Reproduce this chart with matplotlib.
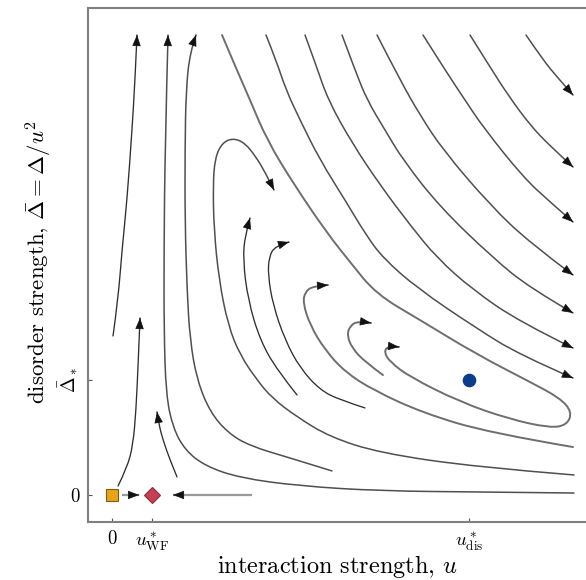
import numpy as np
from matplotlib import pyplot as plt
from matplotlib.path import Path
from matplotlib.patches import PathPatch, FancyArrowPatch

plt.rcParams['font.family'] = 'serif'
plt.rcParams['font.serif'] = ['cmr10', 'DejaVu Serif']
plt.rcParams['mathtext.fontset'] = 'cm'
plt.rcParams['axes.formatter.use_mathtext'] = True

# =============================================================================
# fixed points (u, Delta_bar)
# =============================================================================
u_wf = 1.0
u_dis = 8.93
delta_star = 1.0

# =============================================================================
# flow lines, ordered along the flow (arrow at the end)
# =============================================================================
flow_lines = {
    'left_up':  ([0.025, 0.15, 0.25, 0.375, 0.5, 0.575, 0.625],
                 [1.383, 1.696, 2.130, 2.565, 3.174, 3.609, 4.0]),
    'gauss_up': ([0.15, 0.375, 0.525, 0.6, 0.65, 0.7],
                 [0.078, 0.235, 0.435, 0.739, 1.113, 1.539]),
    'wf_up':    ([1.625, 1.45, 1.275, 1.175, 1.125],
                 [0.157, 0.304, 0.478, 0.609, 0.722]),
    'sep_low':  ([11.55, 9.2, 6.7, 4.7, 3.2, 2.325, 1.825, 1.525, 1.35, 1.3, 1.3, 1.325, 1.4],
                 [0.017, 0.026, 0.035, 0.078, 0.148, 0.252, 0.391, 0.583, 0.870, 1.435, 2.130, 3.0, 4.0]),
    'mid_up':   ([5.5, 4.45, 3.45, 2.9, 2.45, 2.125, 1.95, 1.875, 1.825, 1.825, 1.85, 1.95, 2.1],
                 [0.209, 0.322, 0.426, 0.539, 0.722, 1.0, 1.348, 1.783, 2.391, 3.0, 3.522, 3.852, 4.0]),
    'big_hook': ([11.55, 9.1, 6.7, 5.45, 4.625, 4.0, 3.625, 3.2, 2.9, 2.675, 2.55, 2.525, 2.575,
                  2.75, 3.025, 3.325, 3.6, 3.825, 4.05],
                 [0.174, 0.243, 0.365, 0.504, 0.678, 0.843, 1.0, 1.217, 1.478, 1.870, 2.304, 2.696,
                  2.930, 3.061, 3.104, 3.061, 2.939, 2.809, 2.652]),
    'hook_1':   ([11.525, 9.45, 7.775, 6.525, 5.825, 5.325, 4.95, 4.775, 4.825, 5.025, 5.4],
                 [0.417, 0.539, 0.713, 0.913, 1.070, 1.261, 1.478, 1.670, 1.765, 1.817, 1.826]),
    'hook_2':   ([6.775, 6.325, 6.0, 5.875, 5.95, 6.15, 6.475],
                 [1.043, 1.157, 1.278, 1.391, 1.470, 1.513, 1.496]),
    'hook_3':   ([6.325, 5.7, 5.2, 4.7, 4.325, 4.025, 3.9, 3.925, 4.075, 4.425],
                 [0.757, 0.826, 0.913, 1.104, 1.348, 1.652, 1.913, 2.070, 2.165, 2.2]),
    'hook_4':   ([4.625, 4.125, 3.7, 3.4, 3.275, 3.325, 3.45],
                 [0.870, 1.087, 1.348, 1.696, 2.043, 2.261, 2.409]),
    'u_turn':   ([2.75, 3.1, 3.45, 3.875, 4.525, 5.375, 5.95, 6.6, 7.7, 9.1, 10.45, 11.2, 11.5,
                  11.375, 10.95, 9.925, 8.7, 7.45, 6.95, 6.8, 6.9, 7.175],
                 [4.0, 3.713, 3.435, 3.087, 2.713, 2.278, 2.026, 1.748, 1.522, 1.226, 0.983, 0.843,
                  0.722, 0.609, 0.583, 0.661, 0.809, 1.026, 1.157, 1.243, 1.296, 1.287]),
    'down_1':   ([3.85, 4.1, 4.35, 4.7, 5.2, 5.825, 6.35, 6.775, 7.625, 9.1, 10.2, 11.525],
                 [4.0, 3.783, 3.522, 3.261, 2.913, 2.565, 2.261, 2.061, 1.8, 1.452, 1.217, 1.017]),
    'down_2':   ([4.825, 5.1, 5.4, 6.0, 6.7, 7.45, 8.125, 9.025, 10.2, 11.525],
                 [4.0, 3.739, 3.435, 3.061, 2.696, 2.348, 2.061, 1.783, 1.504, 1.278]),
    'down_3':   ([5.75, 6.075, 6.375, 6.825, 7.275, 8.2, 9.525, 10.45, 11.525],
                 [4.0, 3.696, 3.435, 3.174, 2.913, 2.504, 2.061, 1.8, 1.583]),
    'down_4':   ([6.625, 7.2, 7.7, 8.275, 9.45, 10.45, 11.525],
                 [4.0, 3.609, 3.304, 3.0, 2.522, 2.191, 1.913]),
    'down_5':   ([7.775, 8.375, 8.825, 9.275, 10.275, 10.95, 11.525],
                 [4.0, 3.670, 3.435, 3.2, 2.765, 2.548, 2.374]),
    'down_6':   ([8.95, 9.45, 9.9, 10.45, 10.95, 11.525],
                 [4.0, 3.722, 3.478, 3.217, 3.035, 2.852]),
    'down_7':   ([10.35, 10.775, 11.15, 11.525],
                 [4.0, 3.783, 3.626, 3.478]),
}

# flows on the clean axis (Delta_bar = 0)
axis_flows = {
    'to_wf_left':  ([0.25, 0.675], [0.0, 0.0]),
    'to_wf_right': ([3.5, 1.525], [0.0, 0.0]),
}

# line styles (colour, width) for the flow lines
dark = ('#2e2e2e', 0.95)
mid = ('#4f4f4f', 1.1)
grey = ('#6e6e6e', 1.4)
styles = {
    'left_up': dark, 'gauss_up': dark, 'wf_up': dark, 'sep_low': mid, 'mid_up': mid,
    'big_hook': mid, 'hook_1': grey, 'hook_2': grey, 'hook_3': dark, 'hook_4': dark,
    'u_turn': grey,
}


def smooth_path(us, ds):
    pts = np.column_stack([us, ds])
    if len(pts) < 3:
        return Path(pts, [Path.MOVETO, Path.LINETO])
    verts = [pts[0]]
    codes = [Path.MOVETO]
    for i in range(1, len(pts) - 2):
        verts += [pts[i], (pts[i] + pts[i + 1]) / 2]
        codes += [Path.CURVE3, Path.CURVE3]
    verts += [pts[-2], pts[-1]]
    codes += [Path.CURVE3, Path.CURVE3]
    return Path(verts, codes)


def add_head(ax, us, ds):
    end = np.array([us[-1], ds[-1]])
    d = end - np.array([us[-2], ds[-2]])
    head = FancyArrowPatch(posA=end - 0.02 * d, posB=end,
                           arrowstyle='-|>,head_length=0.7,head_width=0.27',
                           mutation_scale=10, color='#111111', lw=0.5,
                           shrinkA=0, shrinkB=0, zorder=4)
    ax.add_patch(head)


# =============================================================================
# figure
# =============================================================================
fig = plt.figure(figsize=(5.86, 5.80), dpi=100)
ax = fig.add_axes([0.1502, 0.1, 0.8737, 0.8862])
ax.set_xlim(-0.6, 12.2)
ax.set_ylim(-0.235, 4.235)

for name, (us, ds) in flow_lines.items():
    col, lw = styles.get(name, mid)
    ax.add_patch(PathPatch(smooth_path(us, ds), fill=False, edgecolor=col, lw=lw,
                           capstyle='round', zorder=2))
    add_head(ax, us, ds)

for name, (us, ds) in axis_flows.items():
    ax.add_patch(PathPatch(smooth_path(us, ds), fill=False, edgecolor='#9a9a9a', lw=1.6, zorder=2))
    add_head(ax, us, ds)

# fixed points
ax.plot([0], [0], marker='s', ms=8.2, mfc='#E9A31B', mec='#7d5c12', mew=0.8, ls='none', zorder=5)
ax.plot([u_wf], [0], marker='D', ms=7.8, mfc='#C44152', mec='#8c2c38', mew=0.8, ls='none', zorder=5)
ax.plot([u_dis], [delta_star], marker='o', ms=8.8, mfc='#0C3C8C', mec='#0C3C8C', ls='none', zorder=5)

# axes and labels
#------------------------------------------------------------------------------
for side in ['left', 'bottom', 'top']:
    ax.spines[side].set_color('#808080')
    ax.spines[side].set_linewidth(1.5)
ax.spines['right'].set_visible(False)

ax.set_xticks([0, u_wf, u_dis])
ax.set_xticklabels(['0', r'$u^*_{\mathrm{WF}}$', r'$u^*_{\mathrm{dis}}$'])
ax.set_yticks([0, delta_star])
ax.set_yticklabels(['0', r'$\bar{\Delta}_*$'])
ax.get_yticklabels()[1].set_rotation(90)
ax.get_yticklabels()[1].set_va('center')
ax.tick_params(direction='in', length=3, width=0.8, color='#555555', labelsize=13.5, pad=6)

ax.set_xlabel('interaction strength, $u$', fontsize=17.5)
ax.xaxis.set_label_coords(0.488, -0.06)
ax.set_ylabel(r'disorder strength, $\bar{\Delta} = \Delta/u^2$', fontsize=16.5)
ax.yaxis.set_label_coords(-0.066, 0.505)

fig.savefig('out.png', dpi=100)
